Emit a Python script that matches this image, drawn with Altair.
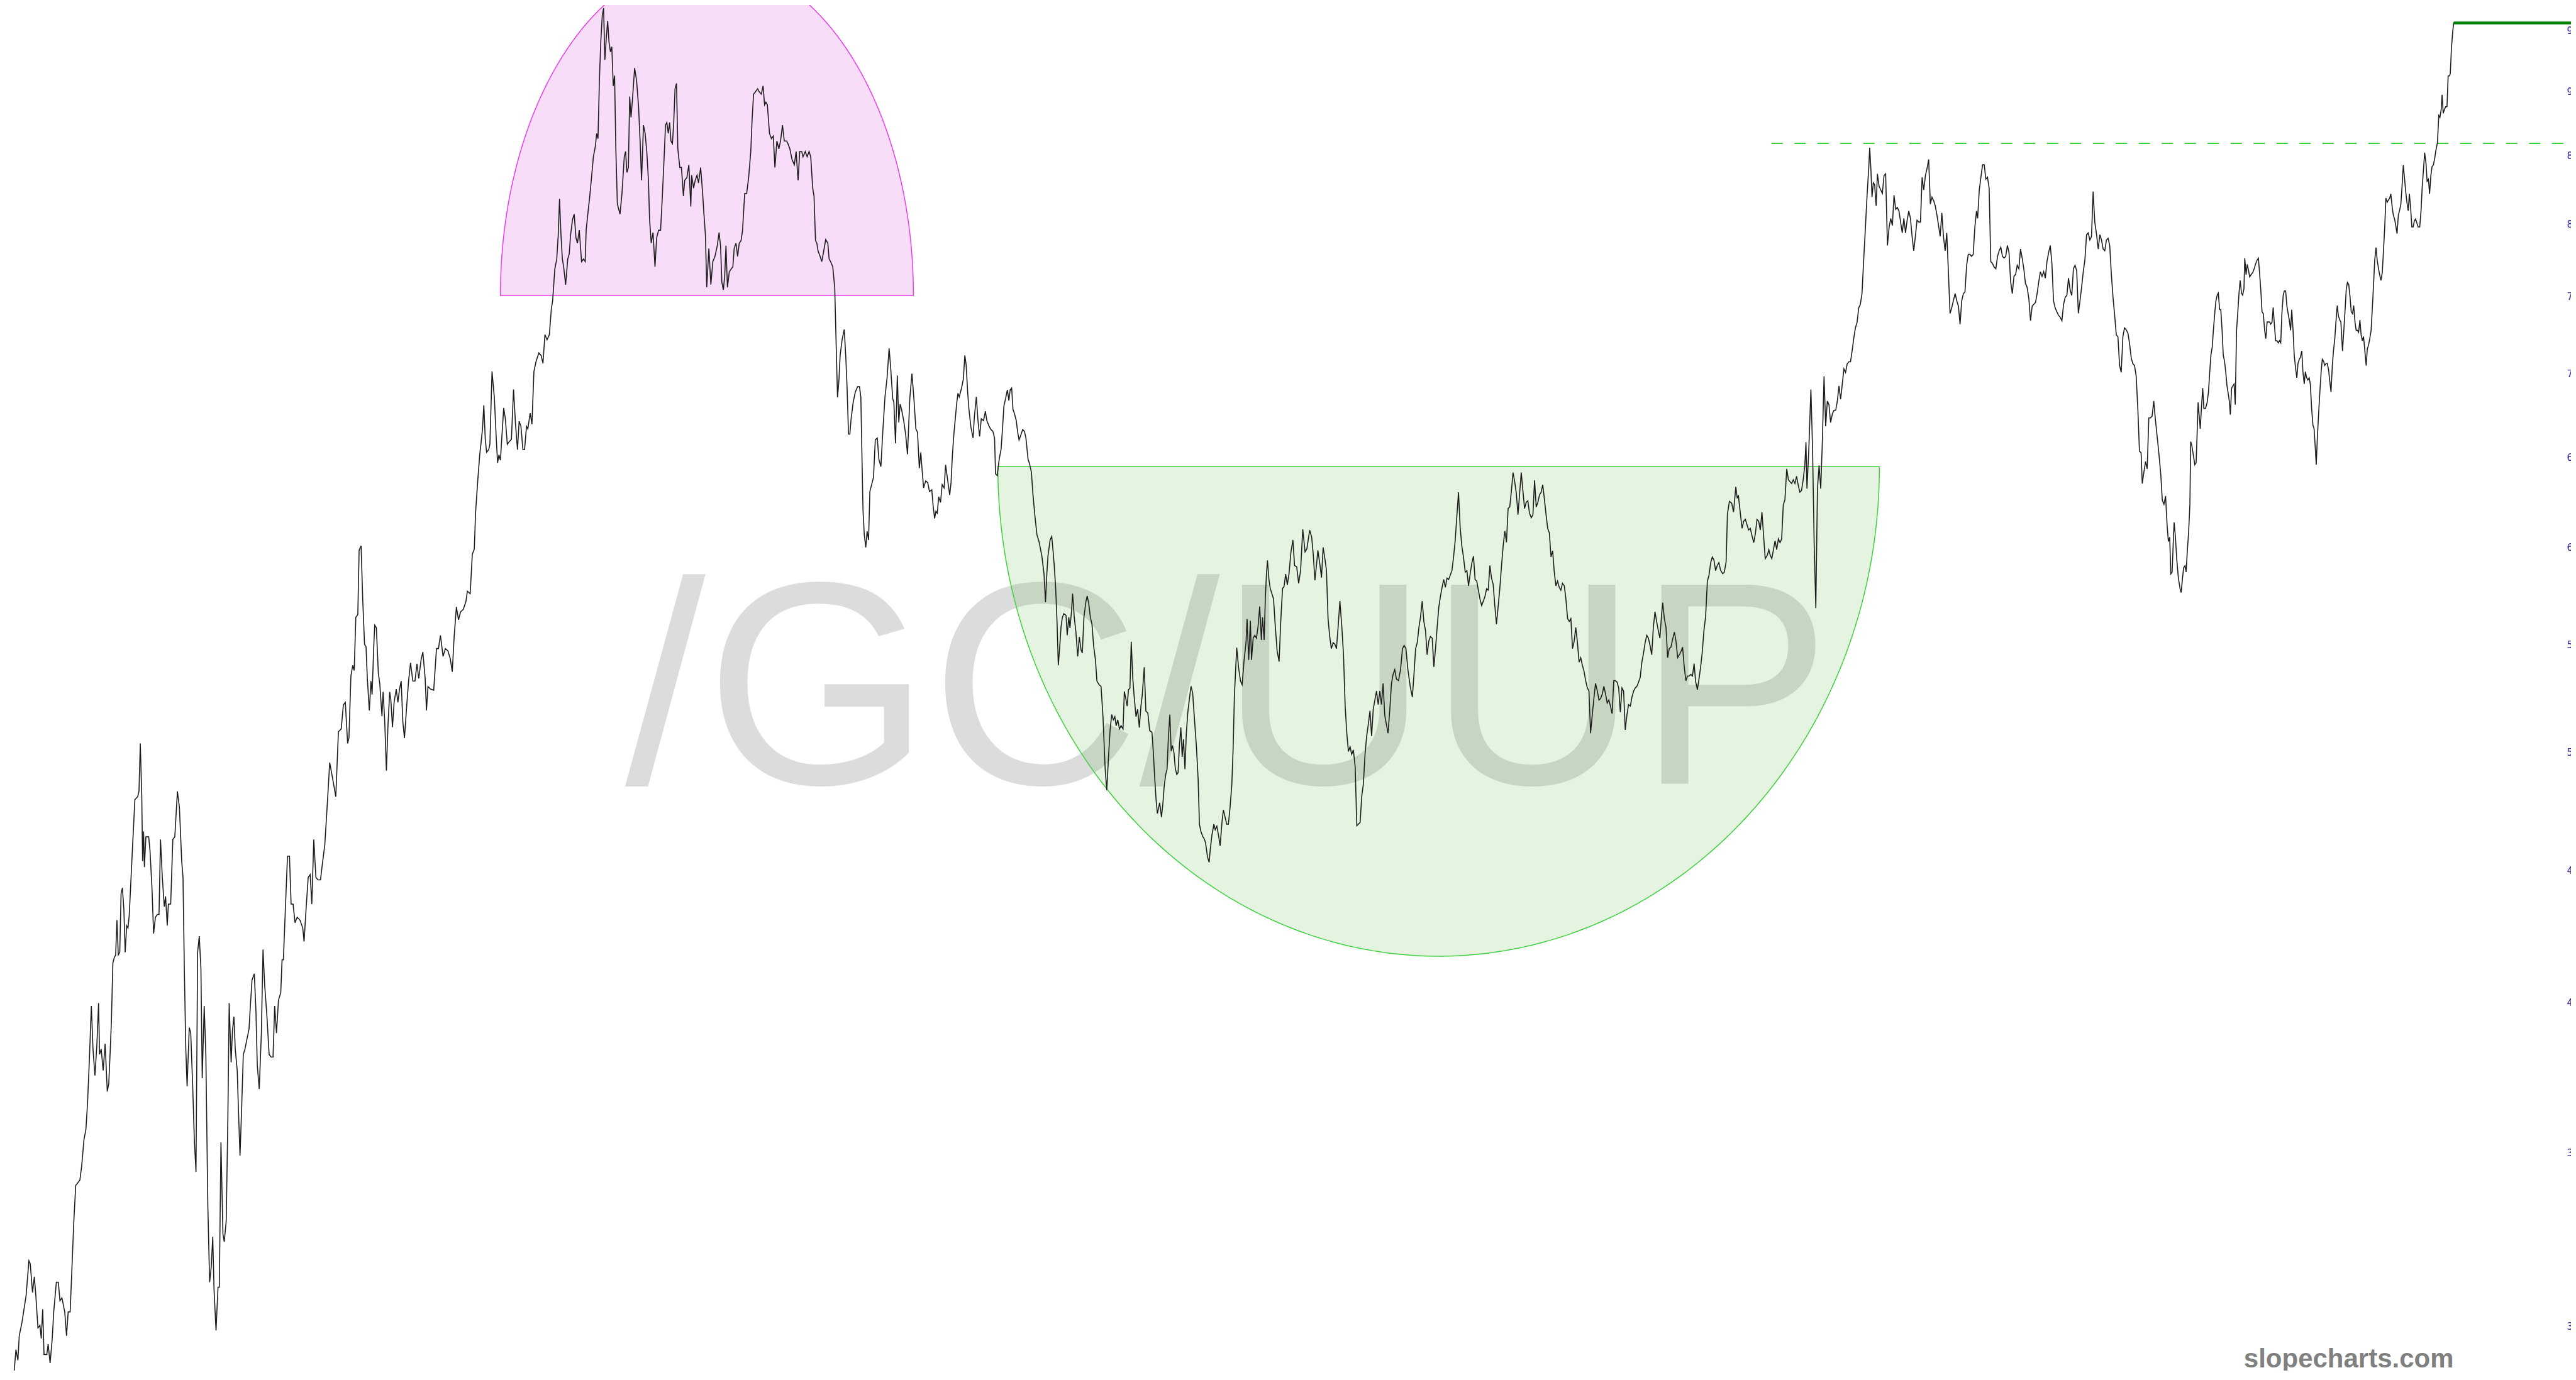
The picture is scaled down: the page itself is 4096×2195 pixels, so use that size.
import altair as alt
import numpy as np
import pandas as pd

# ---- price series (/GC / UUP ratio), time index t, ratio value v ----
T1 = [8.4, 9.7, 10.9, 11.7, 13.4, 15.9, 17.6, 18.4, 19.8, 20.9, 21.8, 23.1, 24.3, 25.1, 26.0, 26.8, 28.5, 29.3, 30.5, 31.8,
      32.7, 34.3, 35.5, 36.5, 37.7, 39.4, 40.5, 41.5, 42.7, 43.9, 44.9, 46.1, 48.6, 49.7, 51.1, 52.3, 53.3, 54.4, 55.6, 56.6,
      57.8, 59.0, 60.0, 60.6, 61.6, 62.8, 64.0, 65.3, 66.2, 67.0, 67.8, 68.7, 69.5, 70.4, 71.2, 72.0, 72.9, 73.7, 74.5, 75.4,
      76.2, 77.1, 77.9, 78.7, 80.4, 82.1, 83.8, 84.6, 85.4, 86.3, 86.8, 87.4, 87.9, 88.8, 90.5, 91.3, 92.5, 93.5, 94.6, 95.8,
      96.8, 97.7, 98.8, 100.0, 100.8, 101.8, 102.5, 103.9, 105.2, 106.4, 108.0, 109.2, 110.6, 111.4, 112.2, 113.1, 113.9, 115.2, 116.1, 117.3,
      118.3, 119.3, 120.3, 121.3, 122.3, 123.1, 124.3, 125.3, 126.5, 127.6, 128.6, 129.5, 130.3, 131.5, 132.7, 133.5, 134.5, 135.7, 136.5, 137.7,
      138.7, 139.5, 140.7, 141.5, 142.4, 143.2, 144.4, 145.1, 146.1, 147.1, 148.1, 149.1, 150.1, 151.6, 152.4, 153.4, 154.8, 155.8, 156.6, 157.8,
      159.1, 160.1, 161.1, 162.5, 163.8, 165.0, 166.2, 167.2, 168.3, 169.5, 170.9, 171.7, 172.5, 173.7, 175.0, 176.2, 177.2, 178.4, 179.6, 180.9,
      182.6, 184.3, 185.1, 186.3, 187.6, 188.8, 189.8, 191.0, 192.3, 193.5, 195.1, 196.0, 197.7, 199.3, 200.7, 202.7, 204.4, 206.0, 207.7, 209.0,
      210.2, 211.6, 212.4, 213.6, 214.7, 215.6, 216.6, 217.8, 218.6, 219.8, 220.8, 221.9, 222.8, 223.6, 224.8, 225.8, 226.5, 227.5, 228.1, 229.1,
      230.3, 231.2, 232.5, 233.2, 234.2, 235.2, 236.2, 237.2, 237.9, 238.9, 239.9, 241.2, 242.2, 243.2, 244.2, 245.2, 246.2, 247.6, 248.7, 249.9,
      251.3, 252.6, 253.8, 254.9, 256.3, 257.4, 258.8, 259.6, 260.5, 262.1]
V1 = [28.65, 29.33, 29.05, 29.69, 30.05, 30.78, 31.74, 31.66, 30.86, 31.29, 30.78, 29.9, 29.97, 29.62, 30.4, 29.2, 29.2, 29.47, 28.98, 29.62,
      30.33, 31.14, 31.14, 30.63, 30.71, 30.33, 29.69, 30.33, 30.33, 31.66, 32.84, 33.94, 34.1, 34.52, 35.35, 35.68, 36.54, 37.96, 39.82, 38.32,
      37.43, 38.5, 39.92, 38.14, 38.32, 37.6, 38.5, 36.9, 37.16, 38.14, 39.25, 41.37, 41.56, 41.67, 42.98, 41.67, 41.77, 44.0, 44.23, 43.4,
      41.77, 42.77, 42.68, 43.2, 45.5, 47.85, 47.97, 48.2, 50.3, 47.97, 45.3, 46.51, 45.06, 46.29, 46.29, 45.73, 44.23, 42.47, 43.09, 43.2,
      43.2, 46.18, 44.65, 43.5, 43.9, 42.77, 43.6, 43.6, 46.18, 46.29, 48.2, 47.52, 45.3, 44.65, 41.17, 38.32, 37.07, 39.06, 38.87, 37.07,
      35.35, 34.35, 41.77, 42.37, 41.17, 37.34, 39.82, 38.14, 33.37, 31.14, 31.58, 32.43, 30.92, 29.83, 31.0, 31.0, 35.27, 32.51, 32.28, 32.89,
      36.03, 39.92, 37.87, 38.96, 39.44, 38.32, 37.6, 36.37, 34.85, 36.37, 38.14, 38.32, 38.6, 39.02, 39.82, 40.75, 40.98, 39.63, 37.78, 36.98,
      38.87, 41.87, 40.58, 39.44, 38.14, 38.05, 38.05, 39.82, 38.87, 40.02, 40.3, 41.49, 41.49, 43.4, 45.5, 45.5, 43.6, 43.6, 42.88, 43.09,
      42.98, 42.68, 42.17, 43.4, 44.65, 44.76, 43.6, 46.18, 44.65, 44.55, 44.55, 45.06, 45.96, 47.74, 49.45, 48.66, 47.97, 50.83, 50.95, 52.05,
      52.17, 50.3, 50.54, 53.41, 53.92, 53.67, 56.28, 56.41, 59.74, 59.97, 57.16, 54.94, 54.82, 53.29, 51.8, 53.17, 52.54, 54.82, 55.88, 55.75,
      53.54, 53.03, 51.53, 52.66, 51.28, 49.1, 51.16, 52.66, 52.29, 51.03, 52.17, 52.79, 52.17, 52.79, 53.17, 51.28, 50.54, 52.05, 53.17, 54.04,
      53.17, 53.17, 53.99, 53.29, 54.18, 54.56, 53.29, 51.8, 52.91, 52.79]

T2 = [264.0, 265.7, 266.9, 268.1, 269.7, 271.1, 272.7, 274.1, 275.3, 276.4, 277.8, 279.1, 280.3, 282.0, 283.6, 284.5, 286.2, 287.5, 288.7, 289.5,
      290.8, 292.0, 292.9, 293.7, 294.5, 295.4, 296.2, 297.5, 298.2, 299.5, 300.9, 302.1, 302.9, 303.7, 304.6, 305.4, 306.6, 307.6, 308.8, 309.9,
      311.3, 312.6, 313.8, 315.0, 316.0, 317.1, 318.3, 319.3, 320.5, 321.3, 322.7, 323.8, 325.0, 326.4, 328.0, 329.4, 330.5, 331.7, 333.0, 334.4,
      335.6, 336.4, 337.7, 338.9, 339.8, 340.6, 341.4, 342.3, 343.1, 344.3, 345.6, 346.5, 347.3, 348.5, 349.5, 350.6, 351.5, 352.6, 354.0, 355.2,
      356.2, 356.8, 357.8, 359.0, 360.2, 361.2, 362.4, 363.2, 364.0, 364.9, 365.7, 366.6, 367.4, 368.2, 369.1, 369.9, 370.7, 371.6, 372.4, 373.3,
      374.1, 374.9, 375.8, 376.6, 377.4, 378.6, 380.0, 380.8, 381.6, 382.5, 383.3, 384.1, 385.0, 386.3, 387.5, 388.7, 389.7, 390.5, 391.7, 392.7,
      393.7, 394.7, 395.4, 396.4, 397.5, 398.7, 399.7, 400.9, 402.1, 403.1, 404.2, 405.1, 405.9, 406.8, 407.6, 408.4, 409.3, 410.1, 410.9, 411.8,
      412.6, 413.8, 414.8, 416.0, 416.8, 418.1, 419.3, 420.5, 421.0, 422.2, 423.2, 424.3, 425.2, 426.5, 427.7, 428.5, 429.4, 430.2, 431.5, 432.7,
      433.9, 435.2, 436.6, 437.7, 438.6, 439.4, 440.3, 441.1, 441.9, 442.8, 443.9, 444.9, 446.1, 446.9, 448.0, 449.0, 450.0, 451.1, 452.0, 453.3,
      454.5, 455.7, 457.0, 457.8, 458.7, 460.0, 461.2, 462.0, 463.4, 464.5, 465.4, 466.2, 467.1, 468.4, 469.6, 470.7, 471.7, 472.9, 474.1, 475.1,
      476.3, 477.4, 478.8, 479.6, 480.8, 482.1, 483.5, 484.6, 485.8, 486.8, 488.0, 488.8, 490.2, 491.3, 492.5, 493.5, 494.7, 495.5, 496.4, 497.2,
      498.0, 499.2, 500.2, 501.4, 502.6, 503.9, 504.7, 505.6, 506.9, 508.1, 508.9, 509.8, 510.6, 511.4, 512.6, 513.9, 514.8, 515.6, 516.5, 517.3,
      518.1, 519.3, 520.6, 522.0, 523.2, 524.0]
V2 = [52.74, 54.73, 54.73, 55.38, 54.35, 54.73, 54.61, 54.23, 53.61, 55.25, 56.8, 56.15, 56.54, 56.67, 57.07, 57.6, 57.47, 59.52, 59.8, 61.78,
      63.54, 65.03, 65.79, 66.55, 67.96, 65.94, 65.18, 65.33, 65.64, 70.04, 68.44, 65.94, 64.57, 65.03, 64.72, 65.94, 67.8, 67.17, 65.64, 65.79,
      65.94, 68.92, 66.83, 65.33, 67.0, 66.7, 65.33, 65.33, 66.7, 66.55, 67.49, 66.83, 70.04, 70.7, 71.2, 71.04, 70.54, 72.37, 72.04, 72.37,
      74.05, 74.58, 76.7, 77.41, 79.07, 81.67, 79.25, 77.41, 76.88, 75.66, 77.41, 77.77, 79.07, 80.18, 80.56, 78.88, 78.51, 79.42, 77.23, 77.41,
      77.23, 79.42, 80.56, 81.86, 83.41, 84.78, 85.58, 86.56, 86.16, 90.93, 93.9, 96.12, 96.78, 92.42, 94.34, 95.67, 93.9, 93.07, 93.5, 90.3,
      91.13, 85.18, 81.3, 80.92, 80.56, 82.06, 84.78, 85.18, 83.61, 83.98, 89.45, 87.81, 89.24, 91.75, 90.72, 88.64, 85.78, 83.03, 87.2, 86.56,
      85.18, 83.03, 80.18, 78.51, 79.25, 76.88, 78.88, 79.42, 79.42, 81.67, 84.58, 87.2, 87.41, 86.56, 87.41, 85.98, 85.78, 87.41, 90.07, 90.5,
      85.38, 83.98, 83.98, 81.86, 83.03, 83.22, 84.18, 81.11, 83.41, 82.44, 83.03, 83.41, 82.83, 83.98, 82.06, 80.56, 79.07, 75.48, 78.14, 75.66,
      77.23, 77.59, 78.33, 79.25, 78.33, 75.84, 75.31, 76.19, 78.33, 75.48, 76.52, 76.7, 76.88, 78.14, 78.51, 77.59, 78.51, 78.69, 79.42, 82.06,
      82.06, 83.22, 85.18, 87.61, 89.64, 89.85, 90.07, 89.85, 89.64, 90.3, 88.79, 89.0, 88.79, 86.56, 86.16, 86.36, 83.98, 85.98, 85.38, 85.98,
      87.2, 85.98, 85.98, 85.78, 85.38, 84.58, 84.18, 85.18, 83.03, 85.18, 85.18, 84.78, 85.18, 84.78, 85.18, 84.78, 82.44, 81.86, 78.69, 78.51,
      77.95, 77.59, 77.23, 77.95, 78.76, 78.51, 77.41, 77.23, 76.88, 75.48, 72.04, 68.44, 69.4, 71.04, 72.04, 72.7, 71.04, 69.09, 66.24, 66.24,
      67.17, 68.11, 68.76, 69.09, 69.09, 68.44]

T3 = [525.3, 526.1, 527.0, 527.8, 528.7, 529.5, 530.3, 531.7, 532.8, 534.0, 535.0, 536.2, 537.4, 538.7, 540.0, 541.2, 542.1, 543.4, 544.1, 545.1,
      546.2, 547.1, 547.9, 548.8, 550.1, 551.3, 552.4, 553.8, 555.1, 556.3, 557.5, 558.5, 559.6, 560.5, 561.3, 562.2, 563.5, 564.7, 565.8, 567.2,
      568.0, 568.9, 569.7, 570.5, 571.4, 572.5, 573.5, 574.7, 575.6, 576.9, 578.1, 578.9, 579.7, 580.6, 582.3, 583.1, 583.9, 585.3, 586.4, 587.3,
      588.1, 589.0, 589.8, 591.0, 592.3, 593.1, 594.3, 595.3, 596.3, 597.3, 598.7, 599.8, 600.7, 602.0, 603.2, 604.4, 605.4, 606.0, 607.0, 608.2,
      609.4, 610.4, 611.1, 612.1, 613.2, 614.1, 614.9, 615.8, 616.6, 617.4, 618.6, 619.4, 620.3, 621.1, 622.5, 623.6, 624.5, 625.8, 626.6, 627.8,
      628.8, 630.0, 631.2, 632.5, 634.2, 635.5, 636.4, 637.2, 637.9, 639.2, 640.2, 640.9, 641.7, 642.6, 643.4, 644.2, 645.1, 645.9, 646.7, 647.6,
      648.9, 649.6, 650.6, 651.3, 652.3, 652.9, 653.9, 654.9, 656.0, 657.0, 658.0, 658.8, 659.8, 661.0, 661.8, 662.7, 663.7, 664.7, 665.7, 666.8,
      667.7, 669.0, 670.2, 671.4, 672.7, 673.7, 674.7, 675.7, 676.7, 677.7, 678.6, 679.4, 680.4, 681.4, 682.4, 683.6, 684.4, 685.3, 686.1, 686.9,
      687.8, 688.6, 689.5, 690.3, 691.5, 692.5, 693.5, 694.5, 695.3, 696.5, 697.5, 698.7, 699.8, 701.2, 702.0, 702.9, 703.7, 704.5, 705.9, 707.0,
      707.9, 708.7, 709.6, 710.4, 711.2, 712.1, 712.9, 713.7, 714.6, 715.4, 716.3, 717.1, 717.9, 718.8, 719.6, 720.4, 721.3, 722.1, 723.0, 724.0,
      725.0, 726.0, 727.1, 728.3, 729.3, 730.1, 731.0, 732.2, 733.0, 733.8, 735.0, 736.0, 736.7, 737.7, 738.9, 739.7, 740.7, 741.7, 742.7, 743.9,
      744.7, 745.7, 746.7, 747.7, 748.7, 749.8, 750.6, 751.4, 752.8, 753.9, 755.1, 756.1, 757.3, 758.5, 759.1, 760.1, 761.1, 761.8, 762.8, 763.8,
      764.8, 765.8, 766.8, 767.8, 768.5, 769.5, 770.2, 770.9, 771.5, 772.4, 773.2, 774.2, 775.2, 776.2, 777.4, 778.6, 779.6, 780.7, 781.6, 782.6,
      783.6, 784.6, 785.8, 787.0]
V3 = [61.94, 60.56, 59.89, 60.76, 60.28, 62.94, 63.23, 63.74, 65.9, 66.01, 64.76, 64.35, 66.44, 68.47, 69.68, 71.5, 70.35, 68.36, 68.14, 65.7,
      69.79, 66.93, 68.03, 67.71, 67.04, 66.2, 65.06, 68.36, 69.9, 68.36, 66.55, 66.34, 64.25, 65.17, 64.15, 63.14, 63.54, 63.44, 62.94, 63.04,
      62.14, 61.45, 61.84, 61.74, 62.64, 62.33, 63.33, 63.14, 64.45, 63.54, 62.74, 63.44, 64.96, 66.2, 68.03, 68.69, 68.47, 69.01, 69.57, 71.05,
      70.45, 68.8, 67.71, 66.66, 66.01, 67.26, 68.47, 67.04, 66.1, 67.15, 67.04, 67.6, 67.04, 66.72, 66.51, 66.4, 66.0, 63.94, 63.84, 64.76,
      65.38, 66.83, 67.92, 68.36, 68.9, 68.25, 68.9, 69.01, 67.71, 67.49, 67.04, 66.4, 65.89, 66.1, 66.51, 66.4, 66.0, 64.76, 64.55, 64.04,
      62.74, 61.55, 60.56, 60.18, 59.42, 58.48, 57.03, 58.48, 59.42, 60.28, 60.47, 59.8, 58.95, 57.74, 56.1, 53.92, 54.87, 55.83, 56.28, 56.46,
      56.37, 55.38, 56.28, 55.74, 56.64, 57.47, 56.28, 55.56, 54.35, 55.3, 54.68, 54.51, 56.28, 57.07, 57.35, 56.98, 56.28, 55.92, 54.87, 54.18,
      53.17, 53.0, 52.92, 51.51, 49.2, 48.25, 49.62, 50.88, 51.61, 51.37, 51.51, 51.1, 51.37, 50.95, 51.1, 50.95, 52.68, 52.34, 52.0, 52.76,
      52.84, 55.06, 53.34, 52.51, 51.51, 51.85, 51.02, 52.0, 52.51, 53.83, 51.77, 51.68, 50.88, 50.8, 49.96, 48.75, 47.86, 47.26, 47.71, 47.11,
      47.71, 48.47, 48.93, 49.16, 50.56, 51.61, 49.96, 50.2, 49.88, 49.2, 48.93, 49.01, 50.2, 51.02, 49.7, 50.48, 49.16, 50.72, 51.68, 52.34,
      52.92, 52.59, 51.37, 50.12, 48.75, 46.81, 46.51, 46.29, 46.21, 46.06, 45.47, 45.25, 45.77, 46.36, 46.81, 46.58, 46.73, 46.36, 45.92, 46.96,
      47.41, 47.11, 46.81, 46.81, 47.48, 48.47, 50.04, 52.51, 54.78, 53.83, 53.17, 53.0, 54.18, 55.06, 56.19, 54.18, 56.1, 54.18, 55.24, 55.38,
      55.24, 55.83, 56.82, 55.15, 56.28, 55.15, 57.21, 58.48, 59.2, 58.2, 57.74, 57.47, 57.21, 55.92, 54.61, 54.1, 56.1, 57.74, 57.83, 58.48,
      57.92, 58.48, 59.64, 60.28]

T4 = [788.0, 789.3, 790.5, 791.7, 793.0, 794.4, 795.5, 797.2, 798.4, 799.4, 800.4, 801.4, 802.2, 803.4, 804.4, 805.4, 806.4, 807.4, 808.4, 809.4,
      810.4, 811.5, 812.5, 813.5, 814.5, 815.6, 816.8, 817.8, 818.8, 819.8, 820.8, 821.8, 822.8, 823.8, 824.9, 825.9, 826.9, 827.9, 828.9, 829.9,
      830.9, 831.9, 832.9, 833.9, 834.9, 835.9, 836.9, 837.9, 838.9, 839.9, 840.9, 841.9, 842.9, 843.9, 844.9, 846.0, 847.0, 848.0, 849.0, 850.0,
      851.3, 852.5, 853.7, 854.7, 855.8, 857.0, 858.4, 859.7, 860.7, 861.7, 862.7, 863.7, 864.7, 865.7, 866.7, 867.7, 868.7, 869.7, 870.7, 871.8,
      872.8, 873.8, 874.8, 875.8, 876.8, 877.8, 878.8, 879.8, 880.8, 881.8, 882.8, 883.8, 884.8, 885.8, 886.8, 887.8, 888.8, 889.8, 890.8, 891.9,
      892.9, 893.9, 894.9, 895.9, 896.9, 897.9, 898.9, 899.9, 900.9, 901.9, 902.9, 903.9, 904.9, 905.9, 906.9, 907.9, 908.9, 909.9, 910.9, 912.0,
      913.0, 914.0, 915.0, 916.0, 917.0, 918.0, 919.0, 920.0, 921.0, 922.0, 923.0, 924.0, 925.0, 926.0, 927.0, 928.0, 929.0, 930.0, 931.0, 932.1,
      933.1, 934.1, 935.1, 936.1, 937.1, 938.1, 939.1, 940.1, 941.1, 942.1, 943.1, 944.1, 945.1, 946.1, 947.1, 948.1, 949.1, 950.1, 951.1, 952.2,
      953.2, 954.2, 955.2, 956.2, 957.2, 958.2, 959.2, 960.2, 961.2, 962.2, 963.2, 964.2, 965.2, 966.2, 967.2, 968.2, 969.2, 970.2, 971.2, 972.3,
      973.3, 974.3, 975.3, 976.3, 977.3, 978.3, 979.3, 980.3, 981.3, 982.3, 983.3, 984.3, 985.3, 986.3, 987.3, 988.3, 989.3, 990.3, 991.3, 992.4,
      993.4, 994.4, 995.4, 996.4, 997.4, 998.4, 999.4, 1000.4, 1001.4, 1002.4, 1003.4, 1004.4, 1005.4, 1006.4, 1007.4, 1008.4, 1009.4, 1010.4, 1011.4, 1012.1,
      1013.1, 1014.1, 1015.1, 1016.1, 1017.1, 1018.1, 1019.2, 1020.2, 1021.2, 1022.2, 1023.2, 1024.2, 1025.2, 1026.2, 1027.2, 1028.2, 1029.2, 1030.2, 1031.2, 1032.2,
      1033.2, 1034.2, 1035.2, 1036.2, 1037.2, 1038.2, 1039.3, 1040.3, 1041.3, 1042.3, 1043.3, 1044.3, 1045.3, 1046.3, 1047.3, 1048.6, 1049.6]
V4 = [58.93, 58.86, 58.0, 58.69, 60.86, 59.65, 59.81, 60.81, 60.45, 59.49, 58.16, 59.0, 59.73, 59.0, 58.3, 59.89, 59.33, 58.69, 56.21, 55.32,
      54.73, 55.02, 54.95, 54.73, 55.77, 57.09, 55.77, 54.43, 52.0, 50.76, 49.94, 50.15, 49.81, 50.01, 49.27, 46.75, 46.82, 46.88, 47.99, 48.52,
      49.81, 50.63, 51.16, 51.78, 50.63, 51.85, 52.28, 52.7, 52.07, 52.7, 52.07, 53.06, 51.58, 51.16, 50.76, 51.85, 53.06, 53.49, 53.71, 53.27,
      53.19, 53.71, 54.73, 54.88, 54.73, 53.71, 52.92, 52.42, 53.49, 54.73, 55.02, 55.77, 56.3, 57.09, 56.07, 55.62, 54.43, 55.09, 55.32, 55.24,
      53.85, 54.73, 55.77, 56.78, 57.33, 57.8, 58.2, 57.8, 58.27, 58.2, 58.43, 58.66, 59.38, 60.27, 61.58, 62.9, 60.97, 59.98, 59.38, 58.58,
      58.66, 57.87, 58.5, 59.05, 59.42, 58.2, 58.12, 57.65, 57.18, 56.87, 57.09, 57.33, 57.72, 57.65, 58.93, 58.27, 57.95, 56.87, 55.93, 56.87,
      57.8, 58.93, 59.98, 60.77, 60.16, 62.0, 62.08, 62.98, 64.01, 63.49, 62.83, 61.65, 62.83, 64.01, 62.98, 62.0, 62.34, 62.42, 61.74, 61.49,
      61.65, 63.58, 62.08, 62.34, 62.75, 62.9, 63.32, 62.5, 61.65, 60.9, 60.66, 59.38, 59.7, 58.58, 57.87, 58.12, 57.8, 57.65, 58.0, 57.87,
      57.18, 56.21, 56.07, 56.21, 54.73, 55.09, 55.77, 55.02, 54.07, 54.29, 53.92, 53.64, 53.19, 52.85, 52.7, 50.76, 51.58, 52.35, 53.06, 52.7,
      52.28, 52.35, 52.56, 52.92, 52.56, 52.14, 52.28, 52.0, 51.65, 53.19, 53.19, 53.12, 52.85, 51.72, 52.85, 52.7, 50.91, 51.58, 52.07, 52.0,
      52.42, 52.7, 52.85, 52.92, 53.12, 53.34, 54.07, 54.5, 55.02, 55.38, 55.24, 54.88, 54.43, 55.77, 56.55, 56.07, 55.62, 55.24, 56.4, 57.01,
      56.21, 55.77, 54.29, 54.73, 54.8, 55.17, 55.54, 55.09, 54.29, 54.43, 54.58, 54.8, 53.85, 53.19, 53.41, 53.41, 53.49, 53.41, 54.0, 53.12,
      52.77, 53.27, 53.85, 54.58, 55.62, 56.3, 58.12, 58.43, 59.08, 59.38, 59.21, 58.66, 58.93, 59.08, 58.69, 58.5, 58.58]

T5 = [1050.7, 1051.5, 1052.7, 1054.1, 1055.2, 1056.6, 1057.4, 1058.2, 1059.4, 1060.4, 1061.4, 1062.4, 1063.4, 1064.4, 1065.4, 1066.4, 1067.5, 1068.5, 1069.5, 1070.5,
      1071.5, 1072.5, 1073.5, 1074.5, 1075.8, 1076.7, 1077.5, 1078.5, 1079.5, 1080.5, 1081.5, 1082.5, 1083.5, 1084.5, 1085.5, 1086.5, 1087.6, 1088.6, 1089.6, 1090.6,
      1091.6, 1092.6, 1093.6, 1094.6, 1095.6, 1096.6, 1097.6, 1098.6, 1099.3, 1099.9, 1101.0, 1102.3, 1103.3, 1104.3, 1105.3, 1106.3, 1107.3, 1108.3, 1109.3, 1110.3,
      1111.3, 1112.3, 1113.3, 1114.3, 1115.4, 1116.4, 1117.4, 1118.4, 1119.4, 1120.4, 1121.4, 1122.4, 1123.4, 1124.4, 1125.4, 1126.4, 1127.4, 1128.4, 1129.4, 1130.4,
      1131.4, 1132.4, 1133.4, 1134.5, 1135.5, 1136.5, 1137.5, 1138.1, 1138.8, 1139.5, 1140.3, 1141.1, 1142.0, 1142.8, 1143.8, 1144.8, 1145.8, 1146.8, 1147.8, 1148.9,
      1149.9, 1150.9, 1151.9, 1152.9, 1153.9, 1154.9, 1155.9, 1156.9, 1157.9, 1158.9, 1159.9, 1160.9, 1161.9, 1162.9, 1163.9, 1164.9, 1165.9, 1166.9, 1168.0, 1169.0,
      1170.0, 1171.0, 1172.0, 1173.0, 1174.0, 1175.0, 1176.0, 1177.0, 1178.0, 1179.0, 1180.0, 1181.0, 1182.0, 1183.0, 1184.0, 1185.0, 1186.0, 1187.0, 1188.0, 1189.0,
      1190.1, 1191.1, 1192.1, 1193.1, 1194.1, 1195.1, 1196.1, 1197.1, 1198.1, 1199.1, 1200.1, 1201.1, 1202.1, 1203.1, 1203.8, 1204.8, 1205.8, 1206.8, 1207.8, 1208.8,
      1209.8, 1210.8, 1211.8, 1212.8, 1213.8, 1214.9, 1215.9, 1216.9, 1217.9, 1218.9, 1219.9, 1220.9, 1221.9, 1222.9, 1223.9, 1224.9, 1225.9, 1226.9, 1227.9, 1228.9,
      1229.9, 1230.9, 1231.9, 1232.9, 1233.9, 1235.0, 1236.0, 1237.0, 1238.0, 1239.0, 1240.0, 1241.0, 1242.0, 1243.0, 1244.0, 1245.0, 1246.0, 1247.0, 1248.0, 1249.0,
      1250.0, 1251.0, 1252.0, 1253.0, 1254.0, 1255.1, 1256.1, 1257.1, 1258.1, 1259.1, 1260.1, 1261.1, 1262.1, 1263.1, 1264.1, 1265.1, 1266.1, 1267.1, 1268.1, 1269.1,
      1270.1, 1271.1, 1272.1, 1273.1, 1274.1, 1275.1, 1276.2, 1277.2, 1278.2, 1279.2, 1280.2, 1281.2, 1282.2, 1283.2, 1284.2, 1285.2, 1286.2, 1287.2, 1288.2, 1289.2,
      1290.2, 1291.2, 1292.2, 1293.2, 1294.2, 1295.3, 1296.3, 1297.3, 1298.3, 1299.3, 1300.3, 1301.3, 1302.3, 1303.3, 1304.0, 1305.0, 1306.0, 1307.0, 1308.0, 1309.0,
      1310.0, 1311.0, 1312.0]
V5 = [59.12, 61.69, 62.39, 62.29, 61.8, 63.2, 62.59, 62.69, 61.69, 60.91, 61.3, 61.4, 61.11, 60.82, 60.91, 60.53, 60.14, 60.62, 61.4, 61.3,
      60.82, 61.8, 60.53, 59.29, 59.48, 59.76, 59.48, 59.29, 59.76, 60.24, 59.76, 60.34, 60.14, 60.34, 62.19, 62.49, 64.22, 63.6, 63.49, 63.39,
      63.6, 63.39, 63.8, 63.29, 62.9, 63.0, 63.6, 64.42, 65.77, 63.1, 65.24, 68.92, 65.45, 60.05, 56.74, 63.1, 64.42, 63.1, 65.87, 69.74,
      66.7, 68.22, 68.0, 66.92, 67.45, 67.66, 67.66, 68.22, 69.14, 68.33, 69.25, 70.2, 69.98, 70.52, 70.64, 70.64, 71.33, 72.13, 72.81, 73.16,
      74.11, 74.35, 75.06, 77.48, 79.62, 81.93, 83.91, 85.46, 83.91, 81.79, 82.84, 82.71, 81.16, 83.5, 82.58, 82.32, 82.06, 83.37, 83.5, 78.35,
      79.62, 80.26, 79.75, 81.93, 80.91, 81.04, 80.79, 80.0, 79.23, 80.26, 79.23, 80.13, 80.79, 80.26, 78.98, 77.98, 78.98, 80.13, 80.0, 80.0,
      83.25, 82.32, 83.37, 83.91, 84.58, 81.29, 81.79, 81.54, 81.16, 80.52, 79.75, 78.98, 80.65, 78.98, 77.98, 79.23, 76.54, 73.75, 74.11, 74.58,
      75.06, 74.58, 74.23, 73.04, 74.58, 75.06, 75.18, 76.98, 77.73, 77.73, 77.59, 77.73, 79.62, 80.79, 80.26, 82.32, 83.25, 84.18, 84.18, 83.11,
      83.25, 82.44, 77.23, 77.11, 76.86, 76.74, 77.59, 77.98, 78.23, 77.59, 77.48, 77.59, 78.35, 77.85, 75.86, 75.06, 76.22, 76.35, 76.98, 76.74,
      78.1, 77.48, 76.74, 75.74, 75.5, 74.7, 73.27, 74.23, 74.35, 74.47, 75.06, 75.86, 76.54, 76.22, 76.54, 76.1, 77.23, 77.85, 78.35, 77.11,
      74.58, 74.11, 73.87, 73.63, 73.51, 73.27, 74.35, 74.82, 74.94, 76.1, 75.31, 74.94, 76.74, 76.98, 76.61, 73.75, 74.58, 75.5, 76.54, 77.36,
      79.1, 79.23, 78.73, 78.98, 82.19, 80.0, 79.1, 78.1, 79.1, 78.73, 78.1, 77.98, 78.73, 78.85, 78.35, 76.35, 74.82, 73.63, 72.35, 72.23,
      70.41, 69.98, 72.23, 72.81, 72.69, 72.46, 71.78, 70.87, 70.52, 70.41, 69.74, 67.77, 65.24, 65.15, 63.39, 64.03, 64.64, 64.22, 67.2, 67.2,
      67.31, 68.22, 67.09]

T6 = [1313.4, 1314.4, 1315.3, 1316.2, 1317.2, 1318.2, 1319.1, 1319.9, 1320.7, 1321.4, 1322.2, 1323.0, 1323.4, 1324.2, 1325.0, 1326.0, 1327.0, 1327.7, 1328.5, 1329.2,
      1330.0, 1330.7, 1331.5, 1332.2, 1333.0, 1333.5, 1334.2, 1335.0, 1336.0, 1336.8, 1337.5, 1338.0, 1338.5, 1339.3, 1340.0, 1340.8, 1341.5, 1342.5, 1343.5, 1344.3,
      1345.1, 1345.8, 1346.6, 1347.3, 1348.1, 1348.8, 1349.6, 1350.3, 1351.1, 1351.8, 1352.6, 1353.3, 1354.1, 1354.8, 1355.6, 1356.4, 1357.1, 1357.6, 1358.4, 1359.1,
      1359.9, 1360.6, 1361.4, 1362.1, 1362.9, 1363.6, 1364.4, 1365.1, 1365.9, 1366.4, 1367.2, 1367.9, 1368.7, 1369.4, 1370.2, 1371.2, 1372.2, 1372.9, 1373.9, 1374.7,
      1375.4, 1376.2, 1376.9, 1377.7, 1378.5, 1379.2, 1380.0, 1380.7, 1381.5, 1382.2, 1383.0, 1383.7, 1384.5, 1385.2, 1386.0, 1386.8, 1387.5, 1388.3, 1389.0, 1389.8,
      1390.5, 1391.3, 1392.0, 1392.8, 1393.5, 1394.3, 1395.0, 1395.8, 1396.5, 1397.3, 1398.1, 1398.8, 1399.6, 1400.3, 1401.1, 1401.8, 1402.6, 1403.3, 1404.1, 1404.8,
      1405.6, 1406.3, 1407.1, 1407.9, 1408.6, 1409.4, 1409.9, 1410.6, 1411.4, 1412.1, 1412.9, 1413.6, 1414.4, 1415.1, 1415.9, 1416.6, 1417.4, 1418.2, 1418.9, 1419.7,
      1420.4, 1421.2, 1421.9, 1422.7, 1423.4, 1424.2, 1424.9, 1425.9, 1426.7, 1427.4, 1428.2, 1428.9, 1429.7, 1430.5, 1431.2, 1432.0, 1432.7, 1433.5, 1434.2, 1435.0,
      1435.7, 1436.5, 1437.2, 1438.0, 1438.7, 1439.5, 1440.3, 1441.0, 1441.8, 1442.5, 1443.3, 1444.0, 1444.8, 1445.5, 1446.3, 1447.0, 1447.8, 1448.5, 1449.3, 1450.1,
      1450.8, 1451.6, 1452.3, 1453.1, 1453.8, 1454.6, 1455.3, 1456.1, 1456.8, 1457.6, 1458.3, 1459.1, 1459.9, 1460.6, 1461.4, 1462.1, 1462.9, 1463.6, 1464.4, 1465.1,
      1465.9, 1466.6, 1467.4, 1468.1, 1468.9, 1469.6, 1470.4, 1471.2, 1471.9, 1472.9, 1473.7, 1474.4, 1475.2, 1475.9, 1476.7, 1477.4, 1478.2, 1478.9, 1479.7, 1480.4,
      1481.2, 1482.0, 1482.7, 1483.7, 1484.5, 1485.2, 1486.0, 1486.5, 1487.2, 1488.0, 1488.7, 1489.5, 1490.2, 1491.0, 1491.5, 1492.2, 1493.0, 1493.6]
V6 = [65.8, 64.83, 63.87, 62.46, 62.23, 62.69, 61.12, 60.2, 60.43, 58.49, 58.59, 60.43, 61.24, 60.43, 59.25, 58.27, 57.74, 57.53, 58.27, 58.81,
      58.92, 58.59, 59.79, 60.65, 62.23, 65.8, 65.56, 65.07, 64.46, 64.58, 66.56, 68.13, 67.53, 66.56, 67.77, 69.01, 67.77, 67.77, 68.13, 68.76,
      70.02, 71.06, 71.58, 72.65, 73.73, 74.55, 74.96, 75.1, 74.0, 74.0, 72.65, 71.06, 70.67, 70.02, 69.13, 68.63, 68.13, 67.4, 69.01, 69.13,
      69.26, 68.0, 72.65, 73.73, 75.1, 75.95, 75.1, 74.96, 75.38, 77.47, 76.33, 77.04, 76.62, 76.19, 76.33, 76.47, 76.76, 77.04, 77.33, 77.47,
      76.47, 75.24, 73.87, 73.73, 72.65, 72.11, 73.19, 73.19, 73.19, 73.05, 73.19, 74.14, 72.92, 71.98, 71.98, 71.84, 71.98, 71.84, 73.73, 74.96,
      75.24, 75.24, 74.27, 73.73, 73.32, 72.65, 74.0, 72.65, 71.06, 70.27, 69.64, 70.54, 70.8, 70.93, 71.33, 70.02, 69.26, 70.02, 69.64, 69.51,
      69.64, 69.26, 67.77, 66.77, 66.56, 65.3, 64.46, 66.06, 67.53, 68.76, 70.02, 70.8, 70.67, 70.41, 70.54, 70.54, 70.15, 69.38, 68.76, 70.41,
      71.33, 72.11, 73.19, 74.27, 73.59, 73.32, 73.19, 71.33, 72.65, 73.87, 75.38, 75.81, 75.67, 74.82, 73.87, 73.73, 74.27, 73.19, 72.65, 72.65,
      72.52, 73.32, 72.38, 71.98, 72.25, 71.33, 70.41, 71.46, 71.72, 72.11, 72.65, 74.0, 75.67, 77.33, 78.2, 77.33, 76.76, 76.33, 75.95, 76.47,
      77.9, 79.65, 81.72, 81.42, 81.57, 81.72, 82.03, 81.11, 80.51, 80.21, 79.76, 79.18, 80.51, 80.81, 81.27, 82.5, 84.16, 83.23, 82.17, 81.42,
      80.81, 82.03, 80.96, 79.65, 79.65, 80.07, 80.21, 79.91, 79.65, 79.65, 80.81, 82.5, 83.85, 85.09, 84.31, 82.95, 83.1, 82.03, 83.41, 84.04,
      84.16, 84.64, 85.24, 85.87, 87.96, 87.81, 88.45, 89.59, 88.13, 88.45, 88.64, 88.64, 91.11, 91.11, 91.29, 93.37, 94.79, 95.55]

# ---- annotations ----
Y_TICKS = [30, 35, 40, 45, 50, 55, 60, 65, 70, 75, 80, 85, 90, 95]
WATERMARK = "/GC/UUP"
WATERMARK_T, WATERMARK_V = 380.5, 48.53
BRAND = "slopecharts.com"
BRAND_T, BRAND_V = 1493.6, 28.87
# rounded top (distribution) drawn above the 75 base line
TOP_CENTER_T, TOP_HALF_WIDTH, TOP_BASE, TOP_LOG_HEIGHT = 430.3, 125.7, 74.94, 0.2978
# rounded bottom (accumulation) hanging below the 64.35 rim
BOWL_CENTER_T, BOWL_HALF_WIDTH, BOWL_RIM, BOWL_LOG_DEPTH = 875.7, 268.3, 64.35, 0.4357
RESIST_V, RESIST_T0, RESIST_T1 = 85.8, 1078.3, 1562.0
TARGET_V, TARGET_T0, TARGET_T1 = 95.5, 1493.6, 1600.0

price = pd.DataFrame({"t": T1 + T2 + T3 + T4 + T5 + T6, "v": V1 + V2 + V3 + V4 + V5 + V6})

th = np.linspace(np.pi, 0, 361)
dome = pd.DataFrame({
    "t": TOP_CENTER_T + TOP_HALF_WIDTH * np.cos(th),
    "top": TOP_BASE * np.exp(TOP_LOG_HEIGHT * np.sin(th)),
    "bot": TOP_BASE,
})
bowl = pd.DataFrame({
    "t": BOWL_CENTER_T + BOWL_HALF_WIDTH * np.cos(th),
    "top": BOWL_RIM,
    "bot": BOWL_RIM * np.exp(-BOWL_LOG_DEPTH * np.sin(th)),
})
resist = pd.DataFrame({"t": [RESIST_T0], "t2": [RESIST_T1], "v": [RESIST_V]})
target = pd.DataFrame({"t": [TARGET_T0], "t2": [TARGET_T1], "v": [TARGET_V]})
wm = pd.DataFrame({"t": [WATERMARK_T], "v": [WATERMARK_V], "label": [WATERMARK]})
brand = pd.DataFrame({"t": [BRAND_T], "v": [BRAND_V], "label": [BRAND]})

x_scale = alt.Scale(domain=[3.063, 1561.9], nice=False, zero=False)
y_scale = alt.Scale(type="log", domain=[28.786, 97.04], nice=False, zero=False)
y_axis = alt.Axis(orient="right", values=Y_TICKS, format="d", ticks=False, domain=False, grid=False,
                  labelColor="#2a2a9e", labelFont="DejaVu Sans", labelFontSize=15, labelPadding=1,
                  labelOffset=3, labelBound=False, labelFlush=False, labelOverlap=False, title=None)


def X(field):
    return alt.X(field, scale=x_scale, axis=None, title=None)


def Y(field):
    return alt.Y(field, scale=y_scale, axis=y_axis, title=None)


wm_layer = alt.Chart(wm).mark_text(align="left", baseline="alphabetic", font="Liberation Sans",
                                   fontSize=460, color="#dcdcdc").encode(x=X("t:Q"), y=Y("v:Q"), text="label:N")

dome_layer = alt.Chart(dome).mark_area(fill="#f7ddf7", fillOpacity=1, stroke="#ea3bea", strokeWidth=1.5,
                                       clip=True).encode(x=X("t:Q"), y=Y("top:Q"), y2="bot:Q")

bowl_layer = alt.Chart(bowl).mark_area(fill="#4bb630", fillOpacity=0.15, stroke="#3ecf3e", strokeWidth=1.5,
                                       clip=True).encode(x=X("t:Q"), y=Y("top:Q"), y2="bot:Q")

resist_layer = alt.Chart(resist).mark_rule(color="#3ad23a", strokeWidth=2, strokeDash=[18, 18.5]).encode(
    x=X("t:Q"), x2="t2:Q", y=Y("v:Q"))

price_layer = alt.Chart(price).mark_line(color="#1c1c1c", strokeWidth=1.6, clip=True).encode(
    x=X("t:Q"), y=Y("v:Q"))

target_layer = alt.Chart(target).mark_rule(color="#008000", strokeWidth=4.5, clip=False).encode(
    x=X("t:Q"), x2="t2:Q", y=Y("v:Q"))

brand_layer = alt.Chart(brand).mark_text(align="right", baseline="alphabetic", font="Liberation Sans",
                                         fontSize=42, fontWeight="bold", color="#808080").encode(
    x=X("t:Q"), y=Y("v:Q"), text="label:N")

chart = alt.layer(wm_layer, dome_layer, bowl_layer, resist_layer, price_layer, target_layer, brand_layer).properties(
    width=4072, height=2172,
    autosize=alt.AutoSizeParams(type="none"),
    padding={"left": 0, "top": 0, "right": 8, "bottom": 0},
    background="white",
).configure_view(stroke=None)

chart.save("out.html", embed_options={"renderer": "svg", "actions": False})
